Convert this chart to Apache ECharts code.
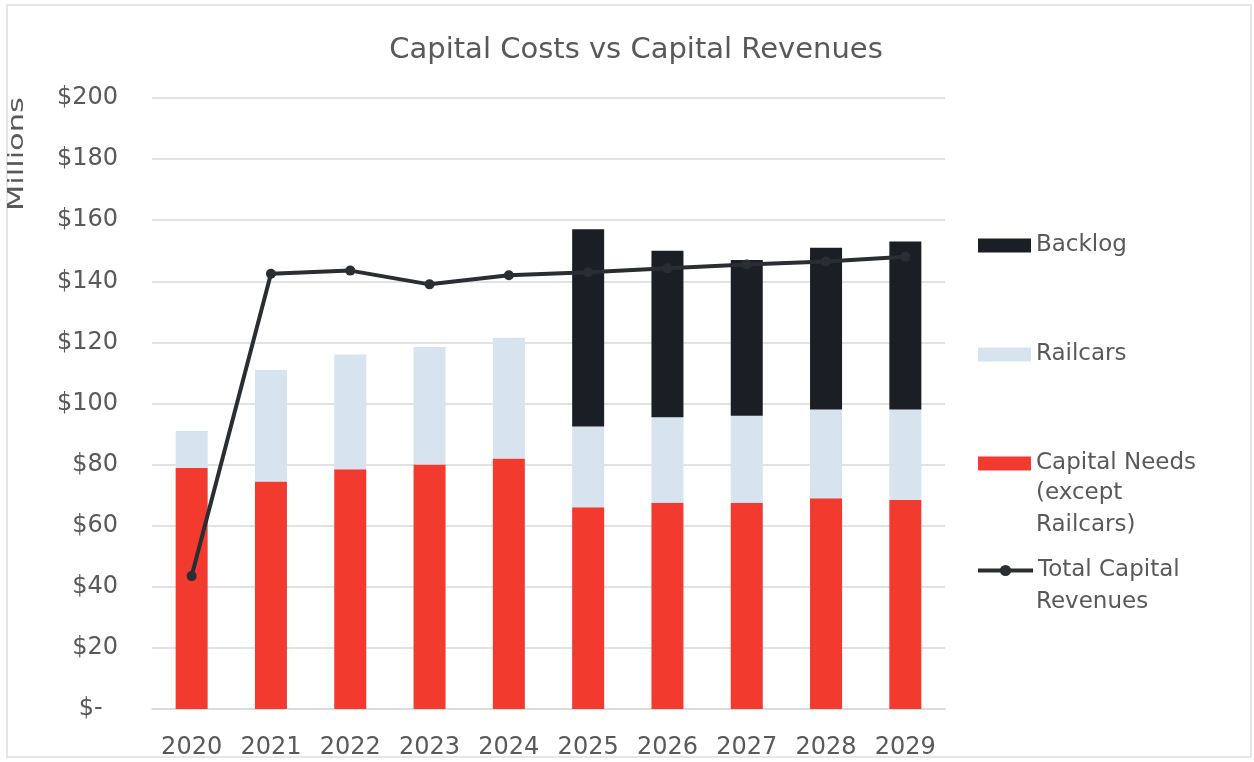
<!DOCTYPE html>
<html><head><meta charset="utf-8">
<script src="https://cdn.jsdelivr.net/npm/echarts@6/dist/echarts.min.js"></script>
<style>html,body{margin:0;padding:0;background:#fff}#c{width:1254px;height:762px}</style>
</head><body><div id="c"></div>
<script>
const years = ['2020','2021','2022','2023','2024','2025','2026','2027','2028','2029'];
const capitalNeeds = [79, 74.5, 78.5, 80, 82, 66, 67.5, 67.5, 69, 68.5];
const railcars = [12, 36.5, 37.5, 38.5, 39.5, 26.5, 28, 28.5, 29, 29.5];
const backlog = [null, null, null, null, null, 64.5, 54.5, 51, 53, 55];
const revenues = [43.5, 142.5, 143.5, 139, 142, 143, 144.3, 145.5, 146.5, 148];
const yTicks = [0, 20, 40, 60, 80, 100, 120, 140, 160, 180, 200];

const font = 'DejaVu Sans';
const grey = '#595959';
const chart = echarts.init(document.getElementById('c'));
function leg(name, top, icon) {
  return {
    data: [{name: name, icon: icon}], left: 978, top: top, orient: 'vertical', padding: 0,
    itemWidth: 53, itemHeight: 14, itemGap: 0,
    formatter: n => n.split('\n')[0],
    textStyle: {fontFamily: font, fontSize: 23, color: grey},
    selectedMode: false
  };
}
function extra(text, x, y) {
  return {type: 'text', x: x, y: y, style: {text: text, fontFamily: font, fontSize: 23, fill: grey, lineHeight: 32, verticalAlign: 'top'}};
}
chart.setOption({
  animation: false,
  title: {text: 'Capital Costs vs Capital Revenues', left: 631, textAlign: 'center', top: 31,
    textStyle: {fontFamily: font, fontSize: 29, fontWeight: 'normal', color: grey}},
  grid: {left: 152, right: 309, top: 98, bottom: 53, containLabel: false},
  legend: [
    leg('Backlog', 234, 'rect'),
    leg('Railcars', 343, 'rect'),
    leg('Capital Needs\n(except\nRailcars)', 452, 'rect'),
    Object.assign(leg('Total Capital\nRevenues', 559), {lineStyle: {width: 4}, itemWidth: 55, left: 976})
  ],
  graphic: [
    {type: 'rect', shape: {x: 7, y: 5, width: 1244, height: 752}, silent: true,
      style: {fill: null, stroke: '#dedede', lineWidth: 1.5}},
    {type: 'text', x: 7, y: 211, rotation: Math.PI / 2, scaleX: 1.45,
      style: {text: 'Millions', fontFamily: font, fontSize: 21, fill: grey, verticalAlign: 'top'}},
    extra('(except\nRailcars)', 1036, 477),
    extra('Revenues', 1036, 586)
  ],
  xAxis: {type: 'category', data: years,
    axisLine: {lineStyle: {color: '#d9d9d9', width: 1.5}}, axisTick: {show: false},
    axisLabel: {fontFamily: font, fontSize: 24, color: grey, margin: 27, interval: 0}},
  yAxis: {type: 'value', min: 0, max: 200, interval: 20,
    axisLine: {show: false}, axisTick: {show: false},
    splitLine: {lineStyle: {color: '#d9d9d9', width: 1.5}},
    axisLabel: {fontFamily: font, fontSize: 24, color: grey, margin: 34,
      formatter: v => v === 0 ? '$-  ' : '$' + v}},
  series: [
    {name: 'Capital Needs\n(except\nRailcars)', type: 'bar', stack: 'a', data: capitalNeeds, barWidth: 32,
      itemStyle: {color: '#f23a2f'}},
    {name: 'Railcars', type: 'bar', stack: 'a', data: railcars, itemStyle: {color: '#d7e3ef'}},
    {name: 'Backlog', type: 'bar', stack: 'a', data: backlog, itemStyle: {color: '#1b1e25'}},
    {name: 'Total Capital\nRevenues', type: 'line', data: revenues, symbol: 'circle', symbolSize: 10,
      lineStyle: {color: '#2a2e32', width: 4}, itemStyle: {color: '#2a2e32'}, z: 5}
  ]
});
</script></body></html>
